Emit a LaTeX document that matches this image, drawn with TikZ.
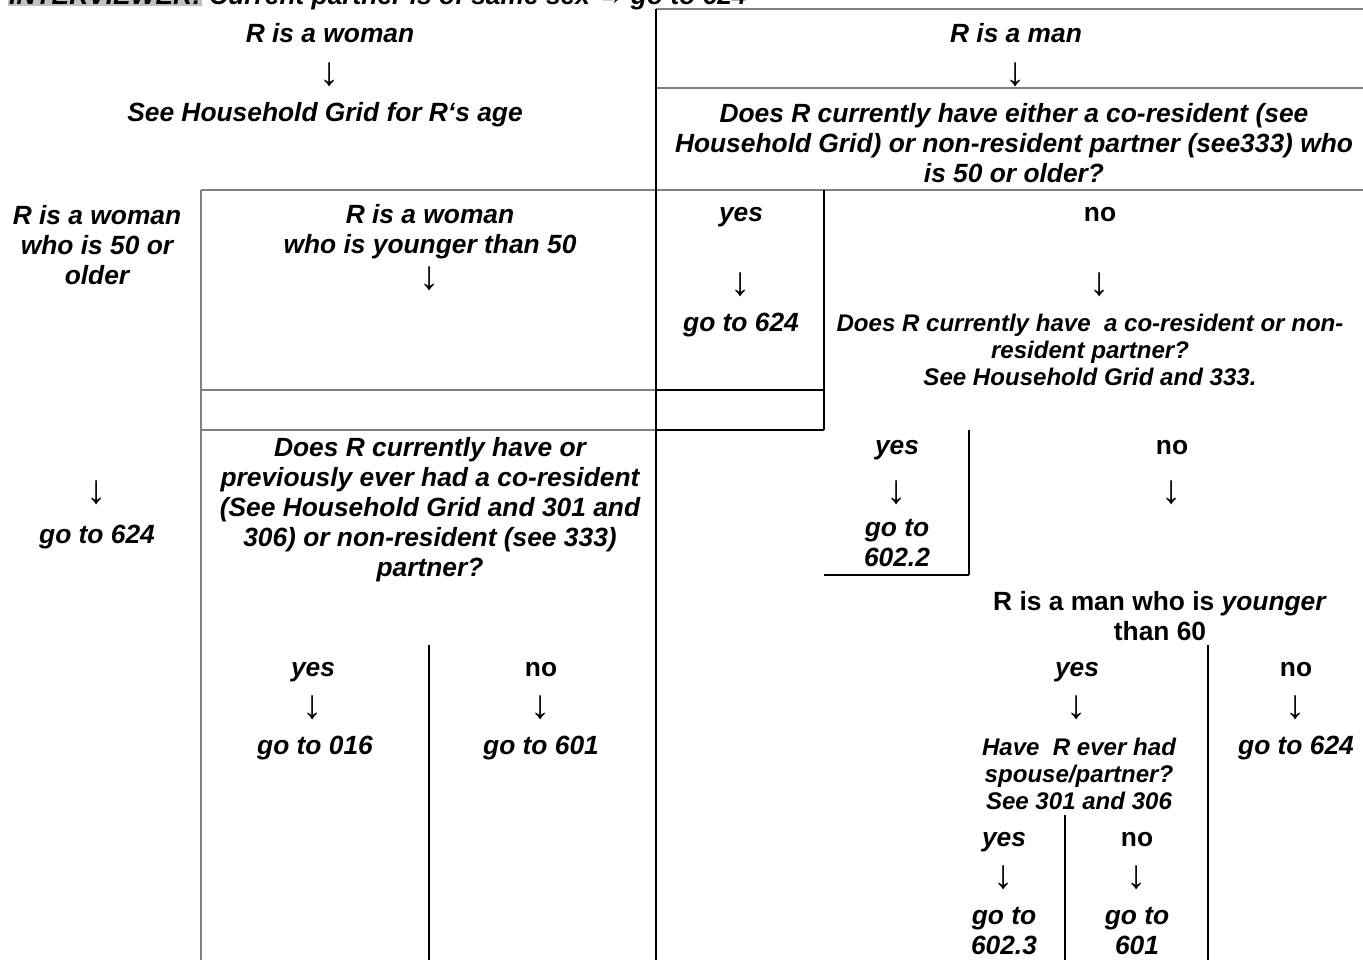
\documentclass[tikz,border=0pt]{standalone}
\usepackage{fontspec}
\setmainfont{Liberation Sans}
\definecolor{gridgray}{RGB}{128,128,128}
\definecolor{hlgray}{RGB}{192,192,192}

\begin{document}
\begin{tikzpicture}[x=0.02cm,y=-0.02cm,
  txt/.style={inner sep=0pt, align=center, font=\fontsize{15}{17.1}\selectfont\bfseries\itshape},
  upr/.style={txt, font=\fontsize{15}{17.1}\selectfont\bfseries\upshape},
  sml/.style={txt, font=\fontsize{13.7}{15.4}\selectfont\bfseries\itshape},
  arr/.style={inner sep=0pt, font=\fontsize{23}{26}\selectfont\mdseries\upshape},
  grid/.style={draw=gridgray, line width=1.1pt},
  rule/.style={draw=black, line width=1.2pt}]
\useasboundingbox (0,0) rectangle (1363,960);

% table rules
\draw[grid] (656,9) -- (1375,9);
\draw[grid] (656,88) -- (1375,88);
\draw[grid] (201,190) -- (1375,190);
\draw[grid] (201,190) -- (201,965);
\draw[grid] (201,390) -- (656,390);
\draw[grid] (201,430) -- (656,430);
\draw[rule] (656,9) -- (656,965);
\draw[rule] (824,190) -- (824,430);
\draw[rule] (656,390) -- (824,390);
\draw[rule] (656,430) -- (824,430);
\draw[rule] (969,430) -- (969,575);
\draw[rule] (824,575) -- (969,575);
\draw[rule] (429,645) -- (429,965);
\draw[rule] (1208,645) -- (1208,965);
\draw[rule] (1065,815) -- (1065,965);

% header, cut by the page edge
\node[txt, anchor=base west] (hdr) at (8,5) {{\setlength{\fboxsep}{0.5pt}\colorbox{hlgray}{INTERVIEWER:}} Current partner is of same sex → go to 624};

% first split
\node[txt] (woman) at (330,33) {R is a woman};
\node[arr] (womanArr) at (330,75) {↓};
\node[txt] (man) at (1016,33) {R is a man};
\node[arr] (manArr) at (1016,75) {↓};
\node[txt] (age) at (325,115) {See Household Grid for R‘s age};
\node[txt] (partner50) at (1014,143) {Does R currently have either a co-resident (see\\Household Grid) or non-resident partner (see333) who\\is 50 or older?};

% women by age
\node[txt] (woman50) at (97,245) {R is a woman\\who is 50 or\\older};
\node[txt] (womanYoung) at (430,232) {R is a woman\\who is younger than 50};
\node[arr] (womanYoungArr) at (430,279) {↓};
\node[arr] (woman50Arr) at (97,493) {↓};
\node[txt] (woman50Go) at (97,537) {go to 624};
\node[txt] (everQ) at (430,510) {Does R currently have or\\previously ever had a co-resident\\(See Household Grid and 301 and\\306) or non-resident (see 333)\\partner?};
\node[txt] (everYes) at (313,672) {yes};
\node[arr] (everYesArr) at (313,708) {↓};
\node[txt] (everYesGo) at (315,748) {go to 016};
\node[upr] (everNo) at (541,670) {no};
\node[arr] (everNoArr) at (541,708) {↓};
\node[txt] (everNoGo) at (541,748) {go to 601};

% men
\node[txt] (manYes) at (741,217) {yes};
\node[arr] (manYesArr) at (741,285) {↓};
\node[txt] (manYesGo) at (741,325) {go to 624};
\node[upr] (manNo) at (1100,215) {no};
\node[arr] (manNoArr) at (1100,285) {↓};
\node[sml] (anyQ) at (1090,350) {Does R currently have\ \ a co-resident or non-\\resident partner?\\See Household Grid and 333.};
\node[txt] (anyYes) at (897,450) {yes};
\node[arr] (anyYesArr) at (897,493) {↓};
\node[txt] (anyYesGo) at (897,543) {go to\\602.2};
\node[upr] (anyNo) at (1172,448) {no};
\node[arr] (anyNoArr) at (1172,493) {↓};
\node[upr] (man60) at (1160,616) {R is a man who is \textit{younger}\\than 60};
\node[txt] (man60Yes) at (1077,672) {yes};
\node[arr] (man60YesArr) at (1077,708) {↓};
\node[sml] (spouseQ) at (1079,774) {Have\ \ R ever had\\spouse/partner?\\See 301 and 306};
\node[upr] (man60No) at (1296,670) {no};
\node[arr] (man60NoArr) at (1296,708) {↓};
\node[txt] (man60NoGo) at (1296,748) {go to 624};
\node[txt] (spouseYes) at (1004,842) {yes};
\node[arr] (spouseYesArr) at (1004,878) {↓};
\node[txt] (spouseYesGo) at (1004,931) {go to\\602.3};
\node[upr] (spouseNo) at (1137,840) {no};
\node[arr] (spouseNoArr) at (1137,878) {↓};
\node[txt] (spouseNoGo) at (1137,931) {go to\\601};
\end{tikzpicture}
\end{document}
